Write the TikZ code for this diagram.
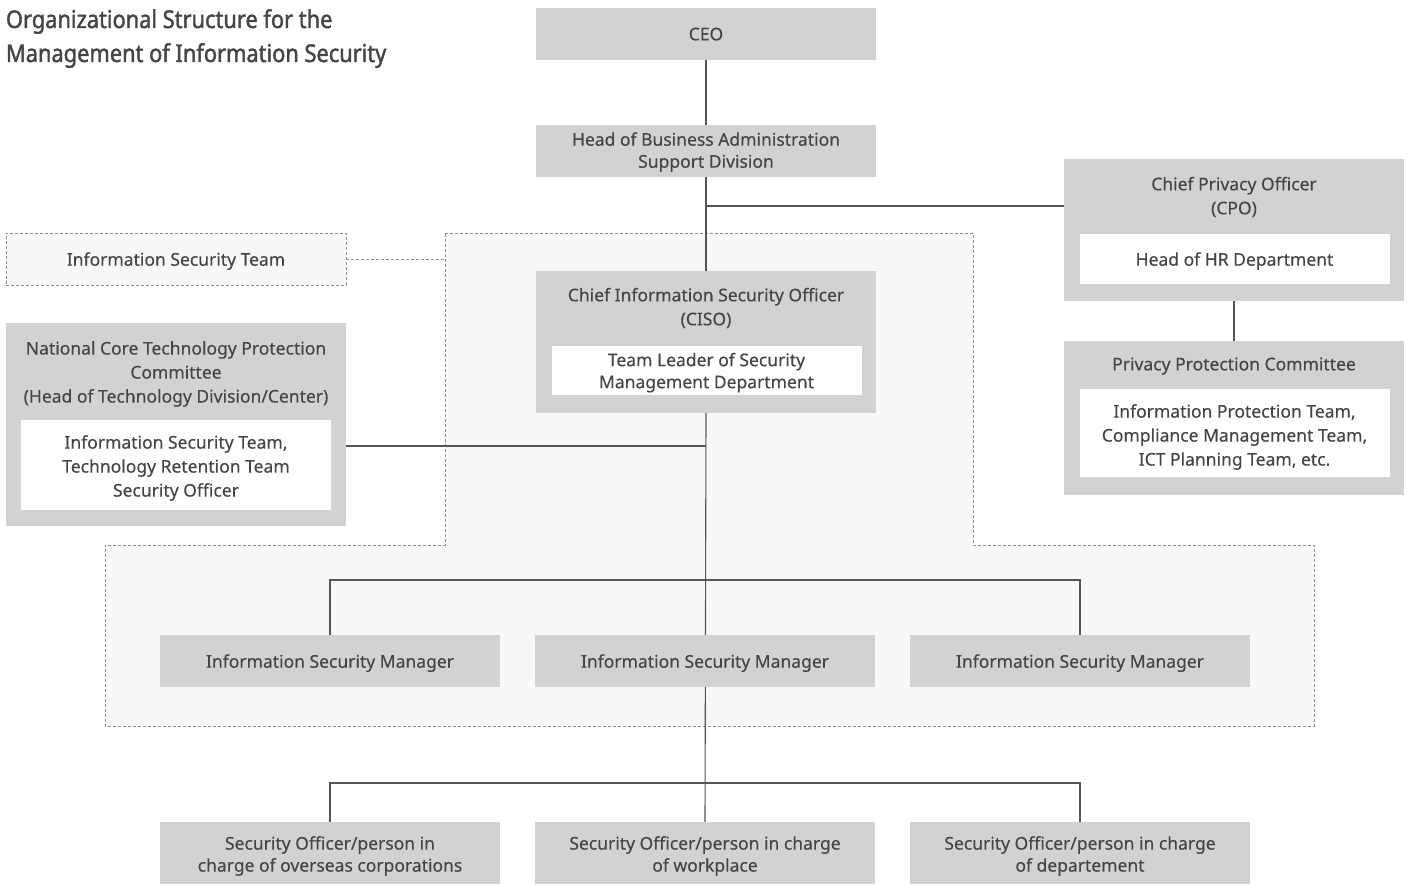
\documentclass[tikz,border=0pt]{standalone}
\usepackage{fontspec}
\setmainfont{Noto Sans}[FakeBold=0.25]
\newfontfamily\titlefont[FakeStretch=0.89, FakeBold=1.6]{Noto Sans}
\usetikzlibrary{backgrounds}
\definecolor{boxgray}{HTML}{D3D1D2}
\definecolor{txtgray}{HTML}{454545}
\definecolor{linegray}{HTML}{555555}
\definecolor{zonefill}{HTML}{F8F8F8}
\definecolor{dashgray}{HTML}{8E8E8E}
\newcommand{\bodyfont}{\fontsize{17.5}{24}\selectfont}
\newcommand{\tightfont}{\fontsize{17.5}{22}\selectfont}
\pgfdeclarelayer{links}
\pgfsetlayers{background,links,main}
\begin{document}
\begin{tikzpicture}[x=1pt,y=-1pt,
  every node/.style={inner sep=0pt, outer sep=0pt, text=txtgray},
  graybox/.style={fill=boxgray, draw=none, minimum width=340pt, minimum height=52pt, align=center, font=\bodyfont, text depth=-1.5pt},
  whitebox/.style={fill=white, draw=none, minimum width=310pt, align=center, font=\bodyfont},
  label/.style={align=center, font=\bodyfont},
  link/.style={draw=linegray, line width=1.1pt},
  dashline/.style={draw=dashgray, line width=0.9pt, dash pattern=on 3pt off 2pt}
]
\useasboundingbox (0,0) rectangle (1413,885);

% title
\node[anchor=base west, font=\titlefont\fontsize{24.5}{30}\selectfont, text=txtgray] (t1) at (6,28) {Organizational Structure for the};
\node[anchor=base west, font=\titlefont\fontsize{24.5}{30}\selectfont, text=txtgray] (t2) at (6,62) {Management of Information Security};

% shaded security zone
\begin{pgfonlayer}{background}
\path[fill=zonefill, dashline] (445,233) -- (973,233) -- (973,545) -- (1314,545)
  -- (1314,726) -- (105,726) -- (105,545) -- (445,545) -- cycle;
\end{pgfonlayer}

% top of the chain
\node[graybox] (ceo) at (706,34) {CEO};
\node[graybox, font=\tightfont, text depth=2pt] (hba) at (706,151) {Head of Business Administration\\Support Division};

% chief privacy officer
\node[graybox, minimum height=142pt] (cpo) at (1234,230) {};
\node[label] (cpot) at (1234,197) {Chief Privacy Officer\\(CPO)};
\node[whitebox, minimum height=50pt, text depth=-1.5pt] (hr) at (1234.5,259) {Head of HR Department};

% privacy protection committee
\node[graybox, minimum height=154pt] (ppc) at (1234,418) {};
\node[label] (ppct) at (1234,366) {Privacy Protection Committee};
\node[whitebox, minimum height=88pt] (ppcw) at (1234.5,433) {};
\node[label] (ppcl) at (1234.5,437) {Information Protection Team,\\Compliance Management Team,\\ICT Planning Team, etc.};

% information security team
\node[graybox, fill=zonefill, dashline] (ist) at (176,259) {Information Security Team};

% CISO
\node[graybox, minimum height=142pt] (ciso) at (706,342) {};
\node[label] (cisot) at (706,308) {Chief Information Security Officer\\(CISO)};
\node[whitebox, minimum height=49pt, font=\tightfont, text depth=-1pt] (cisow) at (706.5,370.5) {Team Leader of Security\\Management Department};

% national core technology protection committee
\node[graybox, minimum height=203pt] (nctp) at (176,424.5) {};
\node[label] (nctpt) at (176,374) {National Core Technology Protection\\Committee\\(Head of Technology Division/Center)};
\node[whitebox, minimum height=90pt] (nctpw) at (176,465) {};
\node[label] (nctpl) at (176,468) {Information Security Team,\\Technology Retention Team\\Security Officer};

% information security managers
\node[graybox] (ism1) at (330,661) {Information Security Manager};
\node[graybox] (ism2) at (705,661) {Information Security Manager};
\node[graybox] (ism3) at (1080,661) {Information Security Manager};

% security officers
\node[graybox, minimum height=62pt] (so1) at (330,853) {};
\node[graybox, minimum height=62pt] (so2) at (705,853) {};
\node[graybox, minimum height=62pt] (so3) at (1080,853) {};
\node[label, font=\tightfont] (so1l) at (330,856) {Security Officer/person in\\charge of overseas corporations};
\node[label, font=\tightfont] (so2l) at (705,856) {Security Officer/person in charge\\of workplace};
\node[label, font=\tightfont] (so3l) at (1080,856) {Security Officer/person in charge\\of departement};

% connectors, kept behind the boxes
\begin{pgfonlayer}{links}
\coordinate (cpojoin) at (706,206);
\coordinate (nctpjoin) at (706,446);
\draw[link] (ceo) -- (hba);
\draw[link] (hba) -- (ciso);
\draw[link] (cpojoin) -- (cpojoin -| cpo.west);
\draw[link] (cpo) -- (ppc);
\draw[link] (nctpjoin -| nctp.east) -- (nctpjoin);
\draw[link] (ciso.south) -- (so2.north);
\draw[link] (ism1.north) -- ++(0,-55) -| (ism3.north);
\draw[link] (so1.north) -- ++(0,-39) -| (so3.north);
\draw[dashline] (ist.east) -- (ist.east -| 445,0);
\end{pgfonlayer}
\end{tikzpicture}
\end{document}
